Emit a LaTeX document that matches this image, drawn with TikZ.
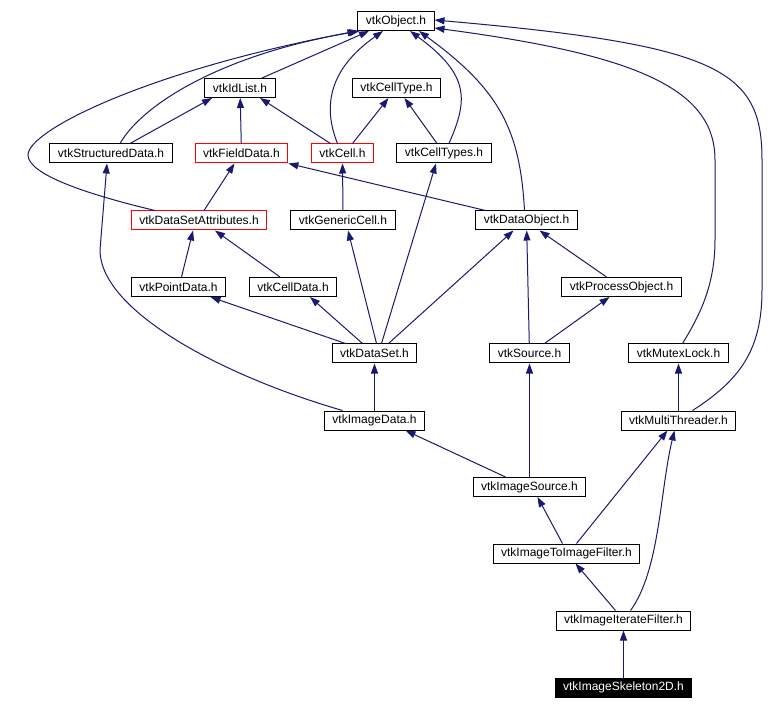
\documentclass[tikz,border=0pt]{standalone}
\usepackage{fontspec}
\setmainfont{Liberation Sans}
\usetikzlibrary{arrows.meta,calc}
\definecolor{edgeblue}{HTML}{191970}
\definecolor{doxred}{HTML}{FF0000}

\begin{document}
\begin{tikzpicture}[
    x=0.75pt, y=-0.75pt,
    hdr/.style={draw=black, line width=0.75pt, fill=white, minimum height=14.25pt, inner xsep=6pt, inner ysep=0pt, font=\fontsize{9}{10}\selectfont},
    redhdr/.style={hdr, draw=doxred},
    mainhdr/.style={hdr, fill=black, text=white},
    dep/.style={-{Triangle[length=7.5pt, width=5.25pt]}, line width=0.75pt, color=edgeblue}
]
\useasboundingbox (0,0) rectangle (782,709);

\node[hdr] (obj) at (396,21) {vtkObject.h};
\node[hdr] (idlist) at (240,88) {vtkIdList.h};
\node[hdr] (celltype) at (396.5,88) {vtkCellType.h};
\node[hdr] (structured) at (111,153.5) {vtkStructuredData.h};
\node[redhdr] (fielddata) at (241.5,153.5) {vtkFieldData.h};
\node[redhdr] (cell) at (342.5,153.5) {vtkCell.h};
\node[hdr] (celltypes) at (444,153.5) {vtkCellTypes.h};
\node[redhdr] (dsattr) at (199,220.5) {vtkDataSetAttributes.h};
\node[hdr] (genericcell) at (343,220.5) {vtkGenericCell.h};
\node[hdr] (dataobject) at (526.5,220.5) {vtkDataObject.h};
\node[hdr] (pointdata) at (178.5,287) {vtkPointData.h};
\node[hdr] (celldata) at (293,287) {vtkCellData.h};
\node[hdr] (processobject) at (621.5,287) {vtkProcessObject.h};
\node[hdr] (dataset) at (374.5,353.5) {vtkDataSet.h};
\node[hdr] (source) at (529.5,353.5) {vtkSource.h};
\node[hdr] (mutex) at (678.5,353.5) {vtkMutexLock.h};
\node[hdr] (imagedata) at (374.5,420.5) {vtkImageData.h};
\node[hdr] (threader) at (678.5,420.5) {vtkMultiThreader.h};
\node[hdr] (imagesource) at (529.5,487) {vtkImageSource.h};
\node[hdr] (im2im) at (566.5,553.5) {vtkImageToImageFilter.h};
\node[hdr] (iterate) at (623.5,620.5) {vtkImageIterateFilter.h};
\node[mainhdr] (skeleton) at (623.5,687.5) {vtkImageSkeleton2D.h};

% includes of vtkObject.h
\draw[dep] ($(idlist.north)+(22,0)$) -- ($(obj.south)+(-27,0)$);
\draw[dep] ($(structured.north)+(9,0)$) .. controls (142,105) and (220,55) .. ($(obj.south west)+(2,0)$);
\draw[dep] ($(cell.north)+(-5,0)$) .. controls (320,100) and (335,65) .. ($(obj.south)+(-13,0)$);
\draw[dep] ($(celltypes.north)+(5,0)$) .. controls (468,100) and (470,75) .. ($(obj.south)+(14,0)$);
\draw[dep] ($(dsattr.north)+(-44,0)$) .. controls (90,195) and (28,175) .. (28,155) .. controls (28,130) and (150,70) .. (obj.south west);
\draw[dep] ($(dataobject.north)+(-2,0)$) .. controls (520,130) and (500,90) .. ($(obj.south)+(23,0)$);
\draw[dep] ($(mutex.north)+(4,0)$) .. controls (700,315) and (715,285) .. (715,240) -- (715,160) .. controls (715,90) and (640,55) .. ($(obj.east)+(0,7)$);
\draw[dep] ($(threader.north)+(14,0)$) .. controls (740,380) and (762,350) .. (762,290) -- (762,160) .. controls (762,70) and (720,45) .. ($(obj.east)+(0,-1)$);

% second and third rows
\draw[dep] ($(structured.north)+(19,0)$) -- ($(idlist.south)+(-28,0)$);
\draw[dep] (fielddata) -- (idlist);
\draw[dep] ($(cell.north)+(-12,0)$) -- ($(idlist.south)+(20,0)$);
\draw[dep] ($(cell.north)+(10,0)$) -- ($(celltype.south)+(-8,0)$);
\draw[dep] ($(celltypes.north)+(-7,0)$) -- ($(celltype.south)+(8,0)$);
\draw[dep] ($(dsattr.north)+(5,0)$) -- ($(fielddata.south)+(-7,0)$);
\draw[dep] ($(dataobject.north)+(-41,0)$) -- (fielddata.south east);
\draw[dep] (genericcell) -- (cell);

% data set level
\draw[dep] ($(pointdata.north)+(3,0)$) -- ($(dsattr.south)+(-6,0)$);
\draw[dep] ($(celldata.north)+(-13,0)$) -- ($(dsattr.south)+(16,0)$);
\draw[dep] ($(processobject.north)+(-15,0)$) -- ($(dataobject.south)+(13,0)$);
\draw[dep] ($(dataset.north)+(-29,0)$) -- ($(pointdata.south)+(32,0)$);
\draw[dep] ($(dataset.north)+(-12,0)$) -- ($(celldata.south)+(17,0)$);
\draw[dep] ($(dataset.north)+(2,0)$) -- ($(genericcell.south)+(5,0)$);
\draw[dep] ($(dataset.north)+(7,0)$) -- ($(celltypes.south)+(-8,0)$);
\draw[dep] ($(dataset.north)+(14,0)$) -- ($(dataobject.south)+(-13,0)$);
\draw[dep] (source) -- (dataobject);
\draw[dep] ($(source.north)+(15,0)$) -- ($(processobject.south)+(-12,0)$);
\draw[dep] (threader) -- (mutex);

% image pipeline
\draw[dep] (imagedata) -- (dataset);
\draw[dep] ($(imagedata.north)+(-32,0)$) .. controls (220,375) and (100,310) .. (100,250) -- ($(structured.south)+(-4,0)$);
\draw[dep] ($(imagesource.north)+(-24,0)$) -- ($(imagedata.south)+(31,0)$);
\draw[dep] (imagesource) -- (source);
\draw[dep] ($(im2im.north)+(-4,0)$) -- ($(imagesource.south)+(8,0)$);
\draw[dep] ($(im2im.north)+(10,0)$) -- ($(threader.south)+(-11,0)$);
\draw[dep] ($(iterate.north)+(-8,0)$) -- ($(im2im.south)+(9,0)$);
\draw[dep] ($(iterate.north)+(7,0)$) .. controls (660,570) and (660,490) .. ($(threader.south)+(-4,0)$);
\draw[dep] (skeleton) -- (iterate);

\end{tikzpicture}
\end{document}
